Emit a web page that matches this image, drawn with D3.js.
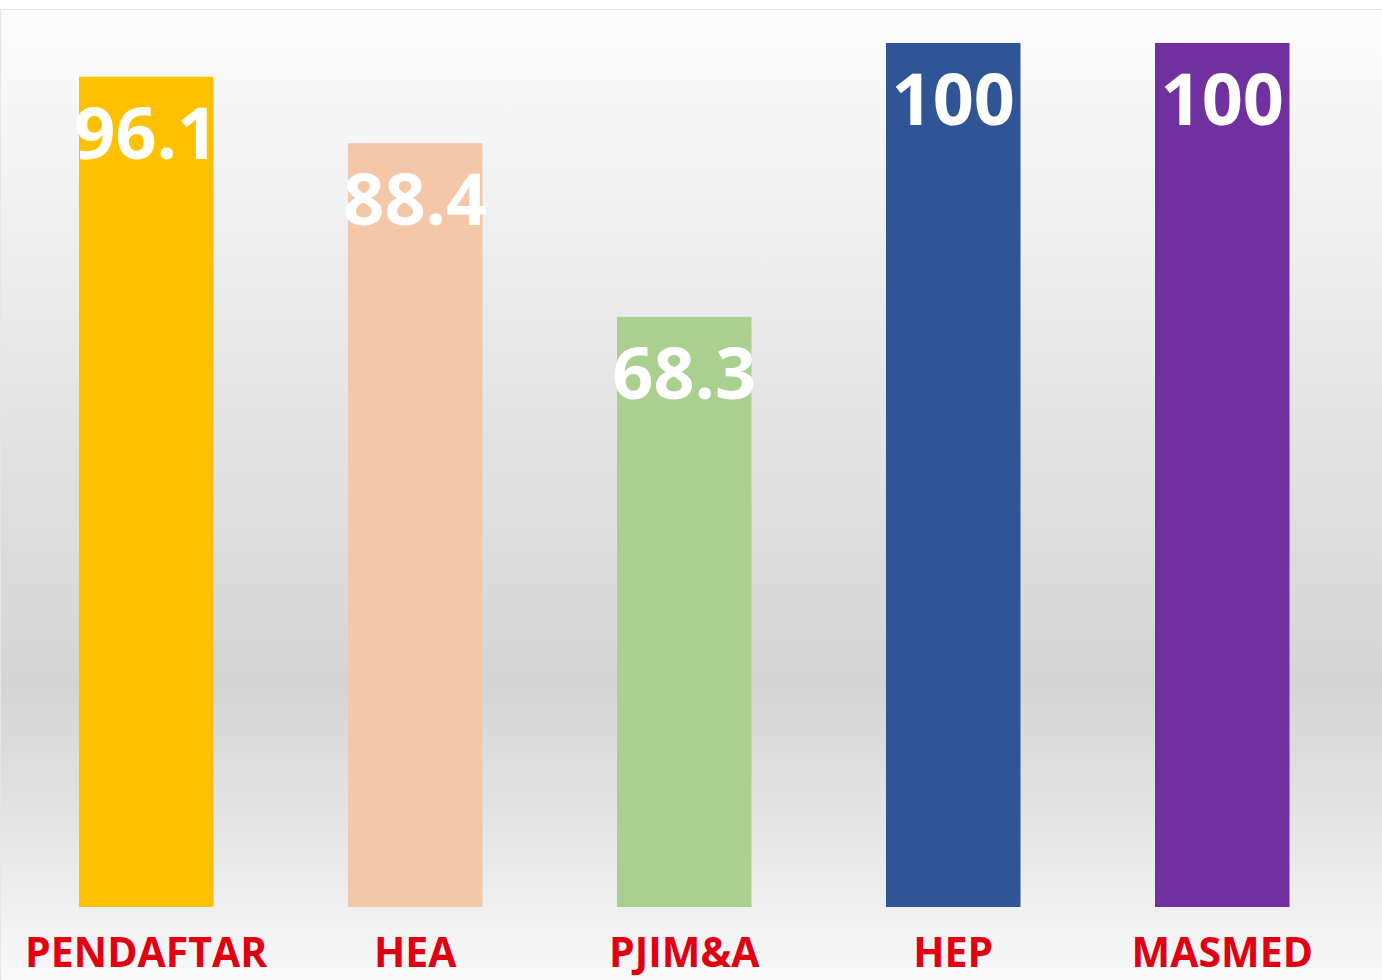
<!DOCTYPE html>
<html>
<head>
<meta charset="utf-8">
<script src="https://cdn.jsdelivr.net/npm/d3@7"></script>
<style>
  html, body { margin: 0; padding: 0; background: #ffffff; }
  svg { display: block; }
</style>
</head>
<body>
<svg id="chart" width="1382" height="980"></svg>
<script>
const categories = ["PENDAFTAR", "HEA", "PJIM&A", "HEP", "MASMED"];
const values = [96.1, 88.4, 68.3, 100, 100];
const valueLabels = ["96.1", "88.4", "68.3", "100", "100"];
const barColors = ["#FFC000", "#F4C7A9", "#A9D08E", "#2F5597", "#7030A0"];

const W = 1382, H = 980;
const svg = d3.select("#chart");

// background gradient panel
const defs = svg.append("defs");
const grad = defs.append("linearGradient")
  .attr("id", "bg").attr("x1", 0).attr("y1", 0).attr("x2", 0).attr("y2", 1);
[[0, "#fcfcfc"], [0.1, "#f6f6f6"], [0.4, "#e5e5e5"], [0.69, "#d4d4d4"], [0.88, "#ebebeb"], [1, "#fafafa"]]
  .forEach(([o, c]) => grad.append("stop").attr("offset", o).attr("stop-color", c));

svg.append("rect").attr("x", 0).attr("y", 0).attr("width", W).attr("height", H).attr("fill", "#ffffff");
svg.append("rect").attr("x", 0.5).attr("y", 9.5).attr("width", W).attr("height", H)
  .attr("fill", "url(#bg)").attr("stroke", "#e6e6e6").attr("stroke-width", 1);

const margin = { left: 11.75, right: 1356.75, top: 43, bottom: 907 };

const x = d3.scaleBand()
  .domain(categories)
  .range([margin.left, margin.right])
  .paddingInner(0.5)
  .paddingOuter(0.25);

const y = d3.scaleLinear().domain([0, 100]).range([margin.bottom, margin.top]);

const data = categories.map((c, i) => ({ c, v: values[i], label: valueLabels[i], color: barColors[i] }));

svg.append("g").selectAll("rect")
  .data(data).join("rect")
  .attr("x", d => x(d.c))
  .attr("y", d => y(d.v))
  .attr("width", x.bandwidth())
  .attr("height", d => y(0) - y(d.v))
  .attr("fill", d => d.color);

svg.append("g").selectAll("text")
  .data(data).join("text")
  .attr("x", d => x(d.c) + x.bandwidth() / 2)
  .attr("y", d => y(d.v) + 82)
  .attr("text-anchor", "middle")
  .attr("font-family", "'Open Sans', sans-serif")
  .attr("font-weight", 700)
  .attr("font-size", 72)
  .attr("fill", "#ffffff")
  .text(d => d.label);

// category axis
const xAxis = svg.append("g")
  .attr("transform", `translate(0,${margin.bottom})`)
  .call(d3.axisBottom(x).tickSize(0).tickPadding(0));
xAxis.select(".domain").remove();
xAxis.selectAll("text")
  .attr("dy", 0)
  .attr("y", 60)
  .attr("font-family", "'Open Sans', sans-serif")
  .attr("font-weight", 700)
  .attr("font-size", 41)
  .attr("fill", "#E00012");
</script>
</body>
</html>
